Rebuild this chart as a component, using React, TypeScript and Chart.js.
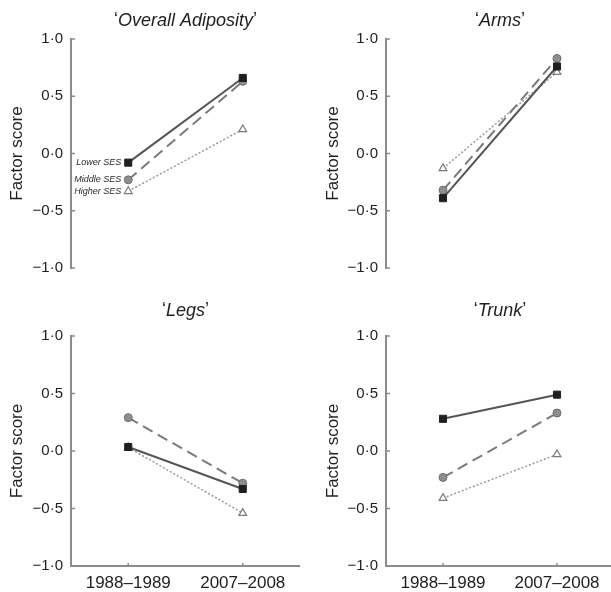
import React, { useEffect, useRef } from 'react';
import { Chart, registerables } from 'chart.js';

Chart.register(...registerables);

const FONT = '"Liberation Sans", Arial, Helvetica, sans-serif';

const categories = ['1988–1989', '2007–2008'];
const seriesNames = ['Lower SES', 'Middle SES', 'Higher SES'];
const yTickValues = [-1, -0.5, 0, 0.5, 1];
const yTickLabels = ['−1·0', '−0·5', '0·0', '0·5', '1·0'];
const yAxisTitle = 'Factor score';
const panelTitles = ['Overall Adiposity', 'Arms', 'Legs', 'Trunk'];

const overallLower = [-0.08, 0.66];
const overallMiddle = [-0.23, 0.63];
const overallHigher = [-0.33, 0.21];

const armsLower = [-0.39, 0.76];
const armsMiddle = [-0.32, 0.83];
const armsHigher = [-0.13, 0.71];

const legsLower = [0.035, -0.33];
const legsMiddle = [0.29, -0.28];
const legsHigher = [0.03, -0.54];

const trunkLower = [0.28, 0.49];
const trunkMiddle = [-0.23, 0.33];
const trunkHigher = [-0.41, -0.03];

const panelSeries = [
  [overallLower, overallMiddle, overallHigher],
  [armsLower, armsMiddle, armsHigher],
  [legsLower, legsMiddle, legsHigher],
  [trunkLower, trunkMiddle, trunkHigher],
];

const AXIS = '#8c8c8c';
const TEXT = '#1e1e1e';

const seriesStyles = [
  {
    borderColor: '#555555',
    borderWidth: 2,
    borderDash: [] as number[],
    pointStyle: 'rect',
    pointRadius: 5,
    pointBackgroundColor: '#1f1f1f',
    pointBorderColor: '#1f1f1f',
    pointBorderWidth: 1,
  },
  {
    borderColor: '#7a7a7a',
    borderWidth: 2,
    borderDash: [11, 6],
    pointStyle: 'circle',
    pointRadius: 4,
    pointBackgroundColor: '#8e8e8e',
    pointBorderColor: '#6e6e6e',
    pointBorderWidth: 1,
  },
  {
    borderColor: '#9a9a9a',
    borderWidth: 1.5,
    borderDash: [2, 2],
    pointStyle: 'triangle',
    pointRadius: 4.5,
    pointBackgroundColor: '#ffffff',
    pointBorderColor: '#7a7a7a',
    pointBorderWidth: 1.2,
  },
];

const layouts = [
  { left: 0, top: 0, width: 300, height: 290, padLeft: 0, yWidth: 71, padTop: 39, padBottom: 22, showX: false, titleY: 20.5, labels: true },
  { left: 300, top: 0, width: 314, height: 290, padLeft: 16, yWidth: 70, padTop: 39, padBottom: 22, showX: false, titleY: 20.5, labels: false },
  { left: 0, top: 290, width: 300, height: 302, padLeft: 0, yWidth: 71, padTop: 46, padBottom: 0, showX: true, titleY: 20.5, labels: false },
  { left: 300, top: 290, width: 314, height: 302, padLeft: 16, yWidth: 70, padTop: 46, padBottom: 0, showX: true, titleY: 20.5, labels: false },
];

function makeDecor(idx: number) {
  const L = layouts[idx];
  return {
    id: 'decor' + idx,
    afterDatasetsDraw(chart: any) {
      const ctx = chart.ctx;
      if (L.labels) {
        ctx.save();
        ctx.font = `italic 9px ${FONT}`;
        ctx.fillStyle = '#2a2a2a';
        ctx.textAlign = 'right';
        ctx.textBaseline = 'middle';
        for (let i = 0; i < seriesNames.length; i++) {
          const pt = chart.getDatasetMeta(i).data[0];
          ctx.fillText(seriesNames[i], pt.x - 7, pt.y);
        }
        ctx.restore();
      }
    },
    afterDraw(chart: any) {
      const ctx = chart.ctx;
      const area = chart.chartArea;
      ctx.save();
      ctx.strokeStyle = AXIS;
      ctx.lineWidth = 1.5;
      const ys = chart.scales.y;
      for (const v of yTickValues) {
        const y = ys.getPixelForValue(v);
        ctx.beginPath();
        ctx.moveTo(area.left, y);
        ctx.lineTo(area.left + 4, y);
        ctx.stroke();
      }
      if (L.showX) {
        const xs = chart.scales.x;
        for (let i = 0; i < categories.length; i++) {
          const x = xs.getPixelForValue(i);
          ctx.beginPath();
          ctx.moveTo(x, area.bottom);
          ctx.lineTo(x, area.bottom - 3);
          ctx.stroke();
        }
      }
      const name = panelTitles[idx];
      const normal = `18px ${FONT}`;
      const italic = `italic 18px ${FONT}`;
      ctx.font = normal;
      const wq1 = ctx.measureText('‘').width;
      const wq2 = ctx.measureText('’').width;
      ctx.font = italic;
      const wn = ctx.measureText(name).width;
      const total = wq1 + wn + wq2;
      let x = (area.left + area.right) / 2 - total / 2;
      ctx.fillStyle = TEXT;
      ctx.textBaseline = 'middle';
      ctx.textAlign = 'left';
      ctx.font = normal;
      ctx.fillText('‘', x, L.titleY);
      x += wq1;
      ctx.font = italic;
      ctx.fillText(name, x, L.titleY);
      x += wn;
      ctx.font = normal;
      ctx.fillText('’', x, L.titleY);
      ctx.restore();
    },
  };
}

function Panel({ idx }: { idx: number }) {
  const ref = useRef<HTMLCanvasElement | null>(null);
  useEffect(() => {
    const L = layouts[idx];
    const canvas = ref.current!;
    const datasets = panelSeries[idx].map((vals, i) => ({
      label: seriesNames[i],
      data: vals,
      fill: false,
      tension: 0,
      ...seriesStyles[i],
    }));
    const chart = new Chart(canvas, {
      type: 'line',
      data: { labels: categories, datasets: datasets as any },
      options: {
        animation: false,
        responsive: false,
        maintainAspectRatio: false,
        events: [],
        layout: {
          autoPadding: false,
          padding: { top: L.padTop, bottom: L.padBottom, left: L.padLeft, right: 0 },
        },
        plugins: {
          legend: { display: false },
          tooltip: { enabled: false },
          title: { display: false },
        },
        scales: {
          x: {
            display: L.showX,
            offset: true,
            afterFit: (s: any) => {
              if (L.showX) s.height = 26;
            },
            grid: { display: false, drawTicks: false },
            border: { display: true, color: AXIS, width: 2 },
            ticks: { padding: 7, color: TEXT, font: { family: FONT, size: 17 } },
          },
          y: {
            min: -1,
            max: 1,
            afterBuildTicks: (s: any) => {
              s.ticks = yTickValues.map((v) => ({ value: v }));
            },
            afterFit: (s: any) => {
              s.width = L.yWidth;
            },
            grid: { display: false, drawTicks: false },
            border: { display: true, color: AXIS, width: 2 },
            ticks: {
              padding: 8,
              color: TEXT,
              font: { family: FONT, size: 15 },
              callback: (v: any) => {
                const k = yTickValues.indexOf(Number(v));
                return k >= 0 ? yTickLabels[k] : '';
              },
            },
            title: {
              display: true,
              text: yAxisTitle,
              color: TEXT,
              font: { family: FONT, size: 17 },
              padding: { top: 7, bottom: 0 },
            },
          },
        },
      },
      plugins: [makeDecor(idx)],
    });
    return () => chart.destroy();
  }, [idx]);
  const L = layouts[idx];
  return (
    <canvas
      ref={ref}
      width={L.width}
      height={L.height}
      style={{ position: 'absolute', left: L.left, top: L.top, width: L.width, height: L.height }}
    />
  );
}

export default function App() {
  return (
    <div style={{ position: 'absolute', left: 0, top: 0, width: 611, height: 592, background: '#ffffff', overflow: 'hidden' }}>
      {[0, 1, 2, 3].map((i) => (
        <Panel key={i} idx={i} />
      ))}
    </div>
  );
}
